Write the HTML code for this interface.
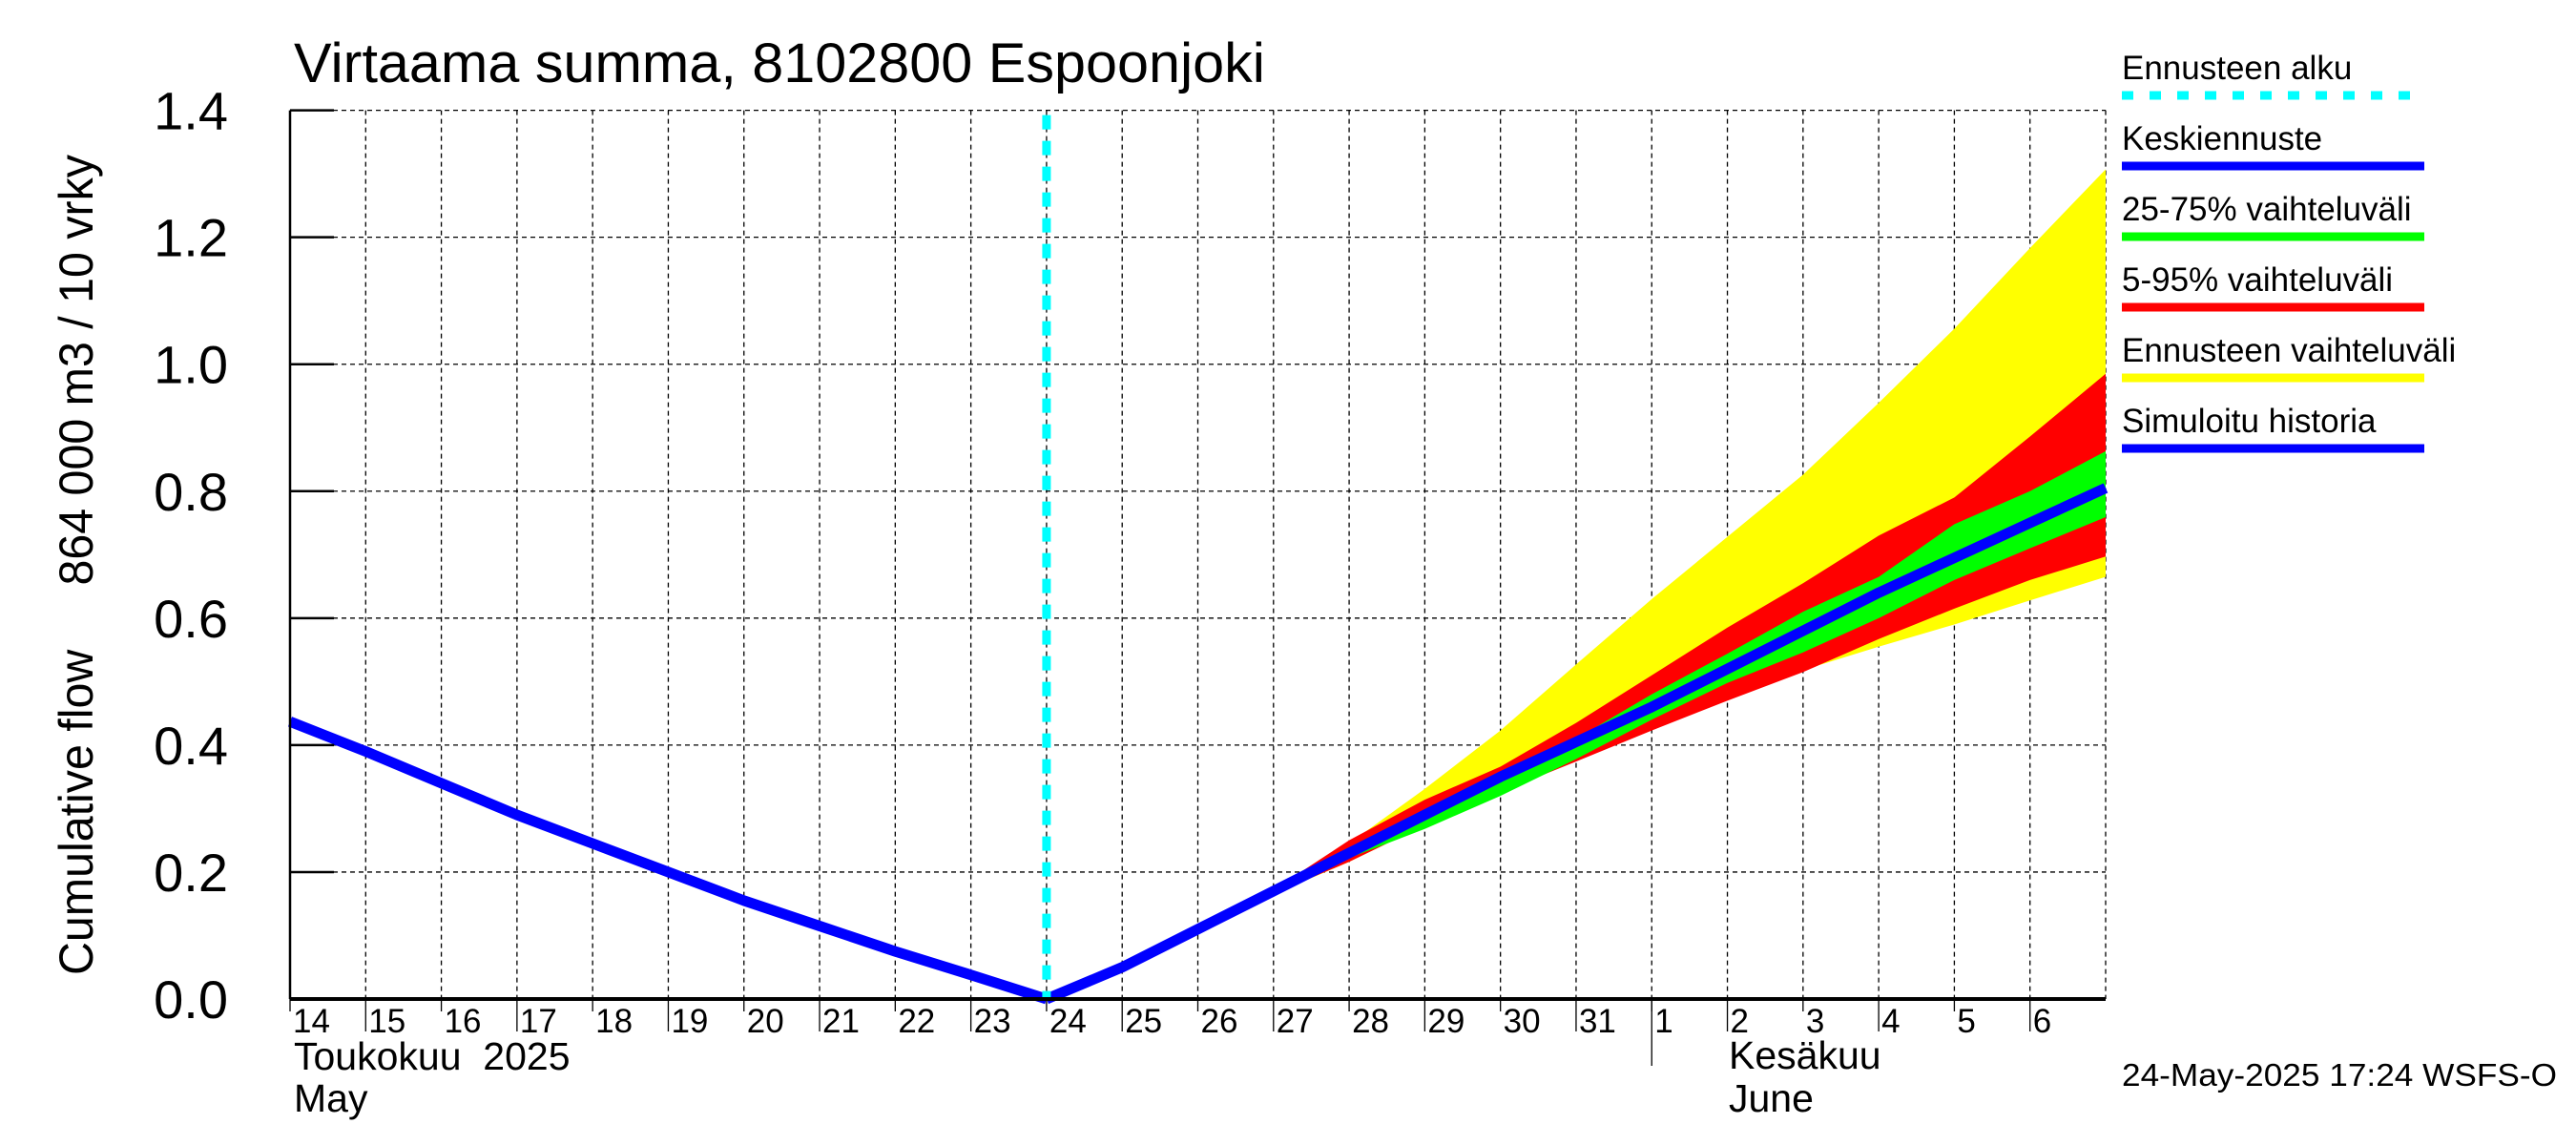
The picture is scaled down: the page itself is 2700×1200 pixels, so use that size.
<!DOCTYPE html>
<html><head><meta charset="utf-8"><style>
html,body{margin:0;padding:0;background:#fff;}
svg{display:block;font-family:"Liberation Sans",sans-serif;}
</style></head><body>
<svg id="chart" width="2700" height="1200" viewBox="0 0 2700 1200" xmlns="http://www.w3.org/2000/svg">
<g id="grid"></g>
<g id="bands"></g>
<g id="lines"></g>
<g id="axes"></g>
<text x="308" y="86" font-size="58" textLength="1018" lengthAdjust="spacingAndGlyphs">Virtaama summa, 8102800 Espoonjoki</text>
<text transform="translate(97,592) rotate(-90)" text-anchor="middle" font-size="50" textLength="860" lengthAdjust="spacingAndGlyphs" xml:space="preserve">Cumulative flow     864 000 m3 / 10 vrky</text>
<text x="308" y="1121" font-size="41" xml:space="preserve">Toukokuu  2025</text>
<text x="308" y="1165" font-size="41">May</text>
<text x="1812" y="1120" font-size="41">Kesäkuu</text>
<text x="1812" y="1165" font-size="41">June</text>
<g id="legend"></g>
<text x="2224" y="1138" font-size="33" textLength="456" lengthAdjust="spacingAndGlyphs">24-May-2025 17:24 WSFS-O</text>
</svg>
<script>
// data (days since 14 May 2025)
const dayLabels = ["14","15","16","17","18","19","20","21","22","23","24","25","26","27","28","29","30","31","1","2","3","4","5","6"];
const yTicks = [0,0.2,0.4,0.6,0.8,1.0,1.2,1.4];
const yTickLabels = ["0.0","0.2","0.4","0.6","0.8","1.0","1.2","1.4"];
const forecastStart = 10;
const histDays = [0,1,2,3,4,5,6,7,8,9,10];
const histValues = [0.437,0.39,0.34,0.29,0.245,0.2,0.155,0.115,0.075,0.038,0.0];
const fcDays = [10,11,12,13,14,15,16,17,18,19,20,21,22,23,24];
const fcMedian = [0,0.05,0.11,0.17,0.23,0.29,0.35,0.405,0.46,0.52,0.58,0.64,0.695,0.75,0.805];
const yellowHigh = [0,0.05,0.11,0.175,0.245,0.331,0.423,0.527,0.63,0.728,0.826,0.939,1.056,1.183,1.307];
const yellowLow = [0,0.05,0.11,0.165,0.216,0.274,0.33,0.383,0.43,0.475,0.518,0.555,0.59,0.628,0.665];
const redHigh = [0,0.05,0.11,0.172,0.25,0.314,0.366,0.435,0.51,0.585,0.655,0.73,0.79,0.886,0.985];
const redLow = [0,0.05,0.11,0.166,0.216,0.274,0.326,0.374,0.423,0.47,0.515,0.567,0.615,0.66,0.697];
const greenHigh = [0,0.05,0.11,0.17,0.234,0.29,0.354,0.41,0.48,0.544,0.61,0.665,0.748,0.8,0.863];
const greenLow = [0,0.05,0.11,0.168,0.222,0.268,0.32,0.378,0.44,0.498,0.546,0.6,0.66,0.71,0.759];

const NS="http://www.w3.org/2000/svg";
const L=304,R=2207,T=115.6,B=1047, nDays=24, yMax=1.4;
function xs(d){return L+(R-L)*d/nDays;}
function ys(v){return B-(B-T)*v/yMax;}
function mk(tag,attrs,parent){const e=document.createElementNS(NS,tag);for(const k in attrs)e.setAttribute(k,attrs[k]);parent.appendChild(e);return e;}
const grid=document.getElementById('grid'),bands=document.getElementById('bands'),lines=document.getElementById('lines'),axes=document.getElementById('axes'),legend=document.getElementById('legend');

for(let i=1;i<=nDays;i++){
  const g=mk('line',{x1:xs(i),x2:xs(i),y1:T,y2:B,stroke:'#000','stroke-width':1.3,'stroke-dasharray':'5,4'},grid);
  
  
}
yTicks.forEach((v,i)=>{
  if(i===0)return;
  const g=mk('line',{x1:L,x2:R,y1:ys(v),y2:ys(v),stroke:'#000','stroke-width':1.3,'stroke-dasharray':'5,4'},grid);
  
  
});

function band(hi,lo,color,name){
  let d='M'+fcDays.map((dd,i)=>xs(dd)+','+ys(hi[i])).join('L');
  for(let i=fcDays.length-1;i>=0;i--)d+='L'+xs(fcDays[i])+','+ys(lo[i]);
  const p=mk('path',{d:d+'Z',fill:color},bands);
  
  
}
band(yellowHigh,yellowLow,'#ffff00','band-forecast-range');
band(redHigh,redLow,'#ff0000','band-5-95');
band(greenHigh,greenLow,'#00ff00','band-25-75');

const hp=mk('polyline',{points:histDays.map((d,i)=>xs(d)+','+ys(histValues[i])).join(' '),fill:'none',stroke:'#0000ff','stroke-width':11,'stroke-linejoin':'round'},lines);


const mp=mk('polyline',{points:fcDays.map((d,i)=>xs(d)+','+ys(fcMedian[i])).join(' '),fill:'none',stroke:'#0000ff','stroke-width':11,'stroke-linejoin':'round'},lines);


const fs=mk('line',{x1:xs(forecastStart),x2:xs(forecastStart),y1:T+5,y2:B,stroke:'#00ffff','stroke-width':9,'stroke-dasharray':'15,12'},lines);



// axes
mk('line',{x1:L,x2:L,y1:T,y2:B,stroke:'#000','stroke-width':2.5},axes);
mk('line',{x1:L,x2:R,y1:B,y2:B,stroke:'#000','stroke-width':4},axes);
yTicks.forEach((v,i)=>{
  mk('line',{x1:L,x2:L+46,y1:ys(v),y2:ys(v),stroke:'#000','stroke-width':2.5},axes);
  const t=mk('text',{x:239,y:ys(v)+20,'font-size':56,'text-anchor':'end'},axes);
  t.textContent=yTickLabels[i];
  
  
});
dayLabels.forEach((lab,i)=>{
  mk('line',{x1:xs(i),x2:xs(i),y1:B,y2:i%2?1081:1060,stroke:'#000','stroke-width':1.3},axes);
  const t=mk('text',{x:xs(i)+3,y:1082,'font-size':35},axes);
  t.textContent=lab;
  
  
});
mk('line',{x1:xs(18),x2:xs(18),y1:B,y2:1117,stroke:'#000','stroke-width':1.3},axes);

// legend
const legLabels=["Ennusteen alku","Keskiennuste","25-75% vaihteluväli","5-95% vaihteluväli","Ennusteen vaihteluväli","Simuloitu historia"];
const legColors=["#00ffff","#0000ff","#00ff00","#ff0000","#ffff00","#0000ff"];
legLabels.forEach((lab,i)=>{
  const yb=83+i*74;
  const t=mk('text',{x:2224,y:yb,'font-size':35},legend);
  t.textContent=lab;
  
  
  const a={x1:2224,x2:2541,y1:yb+17,y2:yb+17,stroke:legColors[i],'stroke-width':9};
  if(i===0)a['stroke-dasharray']='12,17';
  const ln=mk('line',a,legend);
  
  
});
</script>
</body></html>
